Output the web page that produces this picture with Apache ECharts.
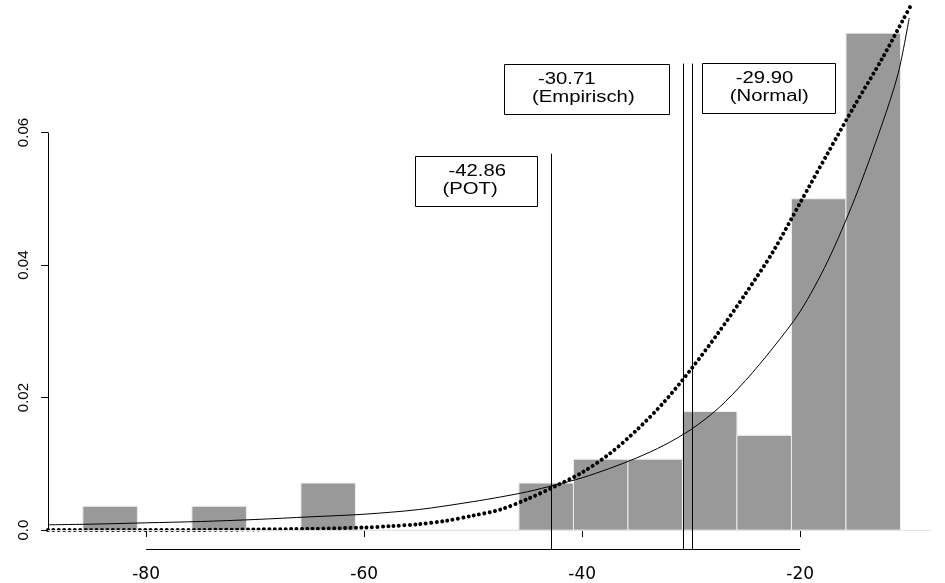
<!DOCTYPE html>
<html><head><meta charset="utf-8">
<script src="https://cdn.jsdelivr.net/npm/echarts@6/dist/echarts.min.js"></script>
<style>html,body{margin:0;padding:0;background:#fff}#c{width:945px;height:583px}</style>
</head><body><div id="c"></div>
<script>
// ---- data ----
const binStarts = [-85.8,-80.8,-75.8,-70.8,-65.8,-60.8,-55.8,-50.8,-45.8,-40.8,-35.8,-30.8,-25.8,-20.8,-15.8];
const binWidth = 5;
const binDensity = [0.0036,0,0.0036,0,0.0071,0,0,0,0.0071,0.0107,0.0107,0.0179,0.0143,0.0500,0.0750];

const normalX = [-89,-85,-80,-75,-70,-65,-60,-55,-50,-47.5,-45,-42.5,-40,-37.5,-35,-32.5,-30,-27.5,-25,-22.5,-20,-17.5,-15,-12.5,-11,-10];
const normalY = [0.0008,0.0009,0.0011,0.0013,0.0016,0.0020,0.0024,0.0031,0.0043,0.0050,0.0058,0.0068,0.0079,0.0093,0.0109,0.0128,0.0152,0.0184,0.0226,0.0275,0.0330,0.0405,0.0500,0.0612,0.0690,0.0773];

const potX = [-89,-80,-75,-70,-65,-60,-57.5,-55,-52.5,-50,-47.5,-45,-42.5,-40,-37.5,-35,-32.5,-30,-27.5,-25,-22.5,-20,-17.5,-15,-12.5,-10.5,-9.9];
const potY = [0,0,0.00003,0.0001,0.0002,0.0004,0.0006,0.0009,0.0014,0.0022,0.0031,0.0047,0.0066,0.0087,0.0115,0.0151,0.0193,0.0243,0.0298,0.0357,0.0420,0.0494,0.0568,0.0641,0.0711,0.0772,0.0790];

const xTicks = [-80,-60,-40,-20];
const yTicks = [0,0.02,0.04,0.06];
const yTickLabels = ['0.0','0.02','0.04','0.06'];

const quantileValues = [-42.86,-30.71,-29.90];
const quantileText = ['-42.86','-30.71','-29.90'];
const quantileNames = ['(POT)','(Empirisch)','(Normal)'];
const quantileTops = [0.0568,0.0704,0.0704];

// ---- chart ----
const xMin = -89, xMax = -8, yMin = -0.00285, yMax = 0.08;
const chart = echarts.init(document.getElementById('c'), null, {renderer:'canvas'});

const histData = binStarts.map((s,i)=>[s, s+binWidth, binDensity[i]]);
const normalData = normalX.map((x,i)=>[x, normalY[i]]);
const potData = potX.map((x,i)=>[x, potY[i]]);

const vLines = quantileValues.map((q,i)=>[{coord:[q,yMin]},{coord:[q,quantileTops[i]]}]);

chart.setOption({
  animation:false,
  grid:{left:48, top:0, width:883, height:553, containLabel:false},
  xAxis:{type:'value', min:xMin, max:xMax,
    axisLine:{show:false}, splitLine:{show:false},
    axisTick:{show:true, customValues:xTicks, length:7, lineStyle:{color:'#000', width:1}},
    axisLabel:{show:true, customValues:xTicks, margin:17, color:'#000', fontFamily:'DejaVu Sans', fontSize:17}},
  yAxis:{type:'value', min:yMin, max:yMax,
    axisLine:{show:false}, splitLine:{show:false},
    axisTick:{show:true, customValues:yTicks, length:7, lineStyle:{color:'#000', width:1}},
    axisLabel:{show:true, customValues:yTicks, rotate:90, margin:17, color:'#000', fontFamily:'Liberation Sans', fontSize:15,
      formatter:(v)=>{const i=yTicks.findIndex(t=>Math.abs(t-v)<1e-9); return i>=0?yTickLabels[i]:'';}}},
  series:[
    {type:'custom', name:'hist', data:histData, encode:{x:[0,1], y:2}, z:1,
      renderItem:(params, api)=>{
        const p0 = api.coord([api.value(0), api.value(2)]);
        const p1 = api.coord([api.value(1), 0]);
        return {type:'rect', shape:{x:p0[0], y:p0[1], width:p1[0]-p0[0], height:p1[1]-p0[1]},
          style:{fill:'#999999', stroke:'#eeeeee', lineWidth:1}};
      },
      markLine:{silent:true, symbol:'none', label:{show:false}, lineStyle:{color:'#e3e3e3', width:1, type:'solid'},
        data:[[{coord:[xMin,0]},{coord:[xMax,0]}]]}
    },
    {type:'line', name:'normal', data:normalData, smooth:0.3, showSymbol:false, z:3, clip:false,
      lineStyle:{color:'#000', width:1},
      markLine:{silent:true, symbol:'none', label:{show:false}, lineStyle:{color:'#000', width:1, type:'solid'},
        data: vLines.concat([
          [{coord:[-80,yMin]},{coord:[-20,yMin]}],
          [{coord:[xMin+0.05,0]},{coord:[xMin+0.05,0.06]}]
        ])}
    },
    {type:'line', name:'pot', data:potData, smooth:0.3, showSymbol:false, z:4,
      lineStyle:{color:'#000', width:4, type:[0.001,5.4], cap:'round'}}
  ]
});

// annotation boxes anchored on the quantile lines
const boxStyle = [
  {side:'left', gap:14, w:122, h:50, dy:2},
  {side:'left', gap:14, w:165, h:50, dy:0},
  {side:'right', gap:10, w:133, h:50, dy:-1}
];
const graphics = [];
quantileValues.forEach((q,i)=>{
  const p = chart.convertToPixel({gridIndex:0}, [q, quantileTops[i]]);
  const b = boxStyle[i];
  const left = b.side==='left' ? p[0]-b.gap-b.w : p[0]+b.gap;
  const top = p[1]+b.dy;
  graphics.push({type:'rect', shape:{x:Math.round(left)+0.5, y:Math.round(top)+0.5, width:b.w, height:b.h},
    style:{fill:'#fff', stroke:'#000', lineWidth:1}, z:10});
  graphics.push({type:'text', x:left+33.5, y:top+15.5, scaleX:1.27, z:11,
    style:{text:quantileText[i], fontFamily:'Liberation Sans', fontSize:16, fill:'#000', align:'left', verticalAlign:'middle'}});
  graphics.push({type:'text', x:left+27.5, y:top+33.5, scaleX:1.27, z:11,
    style:{text:quantileNames[i], fontFamily:'Liberation Sans', fontSize:16, fill:'#000', align:'left', verticalAlign:'middle'}});
});
chart.setOption({graphic:graphics});
</script></body></html>
